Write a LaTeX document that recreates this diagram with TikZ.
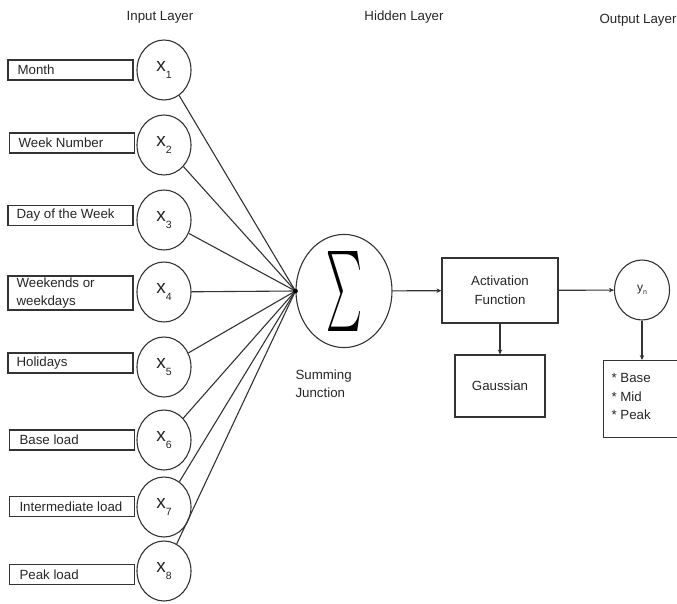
\documentclass[tikz,border=0pt]{standalone}
\usepackage{fontspec}
\setmainfont{Liberation Sans}
\usepackage{graphicx}
\usetikzlibrary{arrows.meta,shapes.geometric}
\begin{document}
\begin{tikzpicture}[x=1pt,y=-1pt,
  line width=1.1pt, draw=black!80,
  lbl/.style={font=\fontsize{13.3}{18.5}\selectfont, text=black!85},
  inbox/.style={draw, minimum width=125pt, minimum height=20pt, inner sep=0pt},
  innode/.style={draw, ellipse, minimum width=54pt, minimum height=60pt, inner sep=0pt, font=\fontsize{19}{19}\selectfont, text=black!85},
  blockbox/.style={draw, inner sep=0pt, font=\fontsize{13.3}{19}\selectfont, align=center, text=black!85},
  arr/.style={-{Stealth[length=5pt,width=4.5pt]}}
]
\useasboundingbox (0,0) rectangle (677,604);

% layer titles
\node[lbl] (tin) at (160,17) {Input Layer};
\node[lbl] (thid) at (404,17) {Hidden Layer};
\node[lbl] (tout) at (638,20) {Output Layer};

% input boxes
\node[inbox] (b1) at (70.5,70) {};
\node[lbl, anchor=west, inner sep=0pt] (t1) at (17,70) {Month};
\node[inbox] (b2) at (72,143) {};
\node[lbl, anchor=west, inner sep=0pt] (t2) at (18,143) {Week Number};
\node[inbox] (b3) at (70.5,215.5) {};
\node[lbl, anchor=west, inner sep=0pt] (t3) at (16,215) {Day of the Week};
\node[inbox, minimum height=34pt] (b4) at (70.5,293) {};
\node[lbl, anchor=north west, align=left, inner sep=0pt] (t4) at (16,277) {Weekends or\\weekdays};
\node[inbox] (b5) at (70.5,363) {};
\node[lbl, anchor=west, inner sep=0pt] (t5) at (16,363) {Holidays};
\node[inbox] (b6) at (72,440) {};
\node[lbl, anchor=west, inner sep=0pt] (t6) at (19,440) {Base load};
\node[inbox] (b7) at (72,506.5) {};
\node[lbl, anchor=west, inner sep=0pt] (t7) at (19,506.5) {Intermediate load};
\node[inbox] (b8) at (72,574.5) {};
\node[lbl, anchor=west, inner sep=0pt] (t8) at (19,574.5) {Peak load};

% input neurons
\node[innode] (x1) at (164,70) {x\raisebox{-0.4em}{\fontsize{10.5}{10}\selectfont 1}};
\node[innode] (x2) at (164,145) {x\raisebox{-0.4em}{\fontsize{10.5}{10}\selectfont 2}};
\node[innode] (x3) at (164,220) {x\raisebox{-0.4em}{\fontsize{10.5}{10}\selectfont 3}};
\node[innode] (x4) at (164,292) {x\raisebox{-0.4em}{\fontsize{10.5}{10}\selectfont 4}};
\node[innode] (x5) at (164,367) {x\raisebox{-0.4em}{\fontsize{10.5}{10}\selectfont 5}};
\node[innode] (x6) at (164,440) {x\raisebox{-0.4em}{\fontsize{10.5}{10}\selectfont 6}};
\node[innode] (x7) at (164,507) {x\raisebox{-0.4em}{\fontsize{10.5}{10}\selectfont 7}};
\node[innode] (x8) at (164,571) {x\raisebox{-0.4em}{\fontsize{10.5}{10}\selectfont 8}};

% summing junction
\node[draw, ellipse, minimum width=96pt, minimum height=112pt, inner sep=0pt] (sum) at (344,291) {\resizebox{36pt}{60pt}{$\sum$}};
\coordinate (conv) at (sum.west);
\foreach \i in {1,...,8} { \draw (x\i) -- (conv); }
\fill (conv) circle (2.4pt);
\node[lbl, anchor=north west, align=left, inner sep=0pt] (tsum) at (295,369) {Summing\\Junction};

% activation
\node[blockbox, minimum width=116pt, minimum height=65pt] (act) at (500,290.5) {Activation\\Function};
\node[blockbox, minimum width=90pt, minimum height=62pt] (gau) at (500,386) {Gaussian};

% output
\node[draw, ellipse, minimum width=55pt, minimum height=60pt, inner sep=0pt, font=\fontsize{12}{12}\selectfont, text=black!85] (yn) at (642,290) {y\raisebox{-0.3em}{\fontsize{7}{7}\selectfont n}};
\node[blockbox, minimum width=90pt, minimum height=77pt, anchor=north west] (outb) at (603,360) {};
\node[lbl, anchor=north west, align=left, inner sep=0pt] (tout2) at (611,373) {* Base\\* Mid\\* Peak};

% arrows
\draw[arr] (sum) -- (act);
\draw[arr] (act) -- (yn);
\draw[arr] (act) -- (gau);
\draw[arr] (yn) -- (yn |- outb.north);
\end{tikzpicture}
\end{document}
